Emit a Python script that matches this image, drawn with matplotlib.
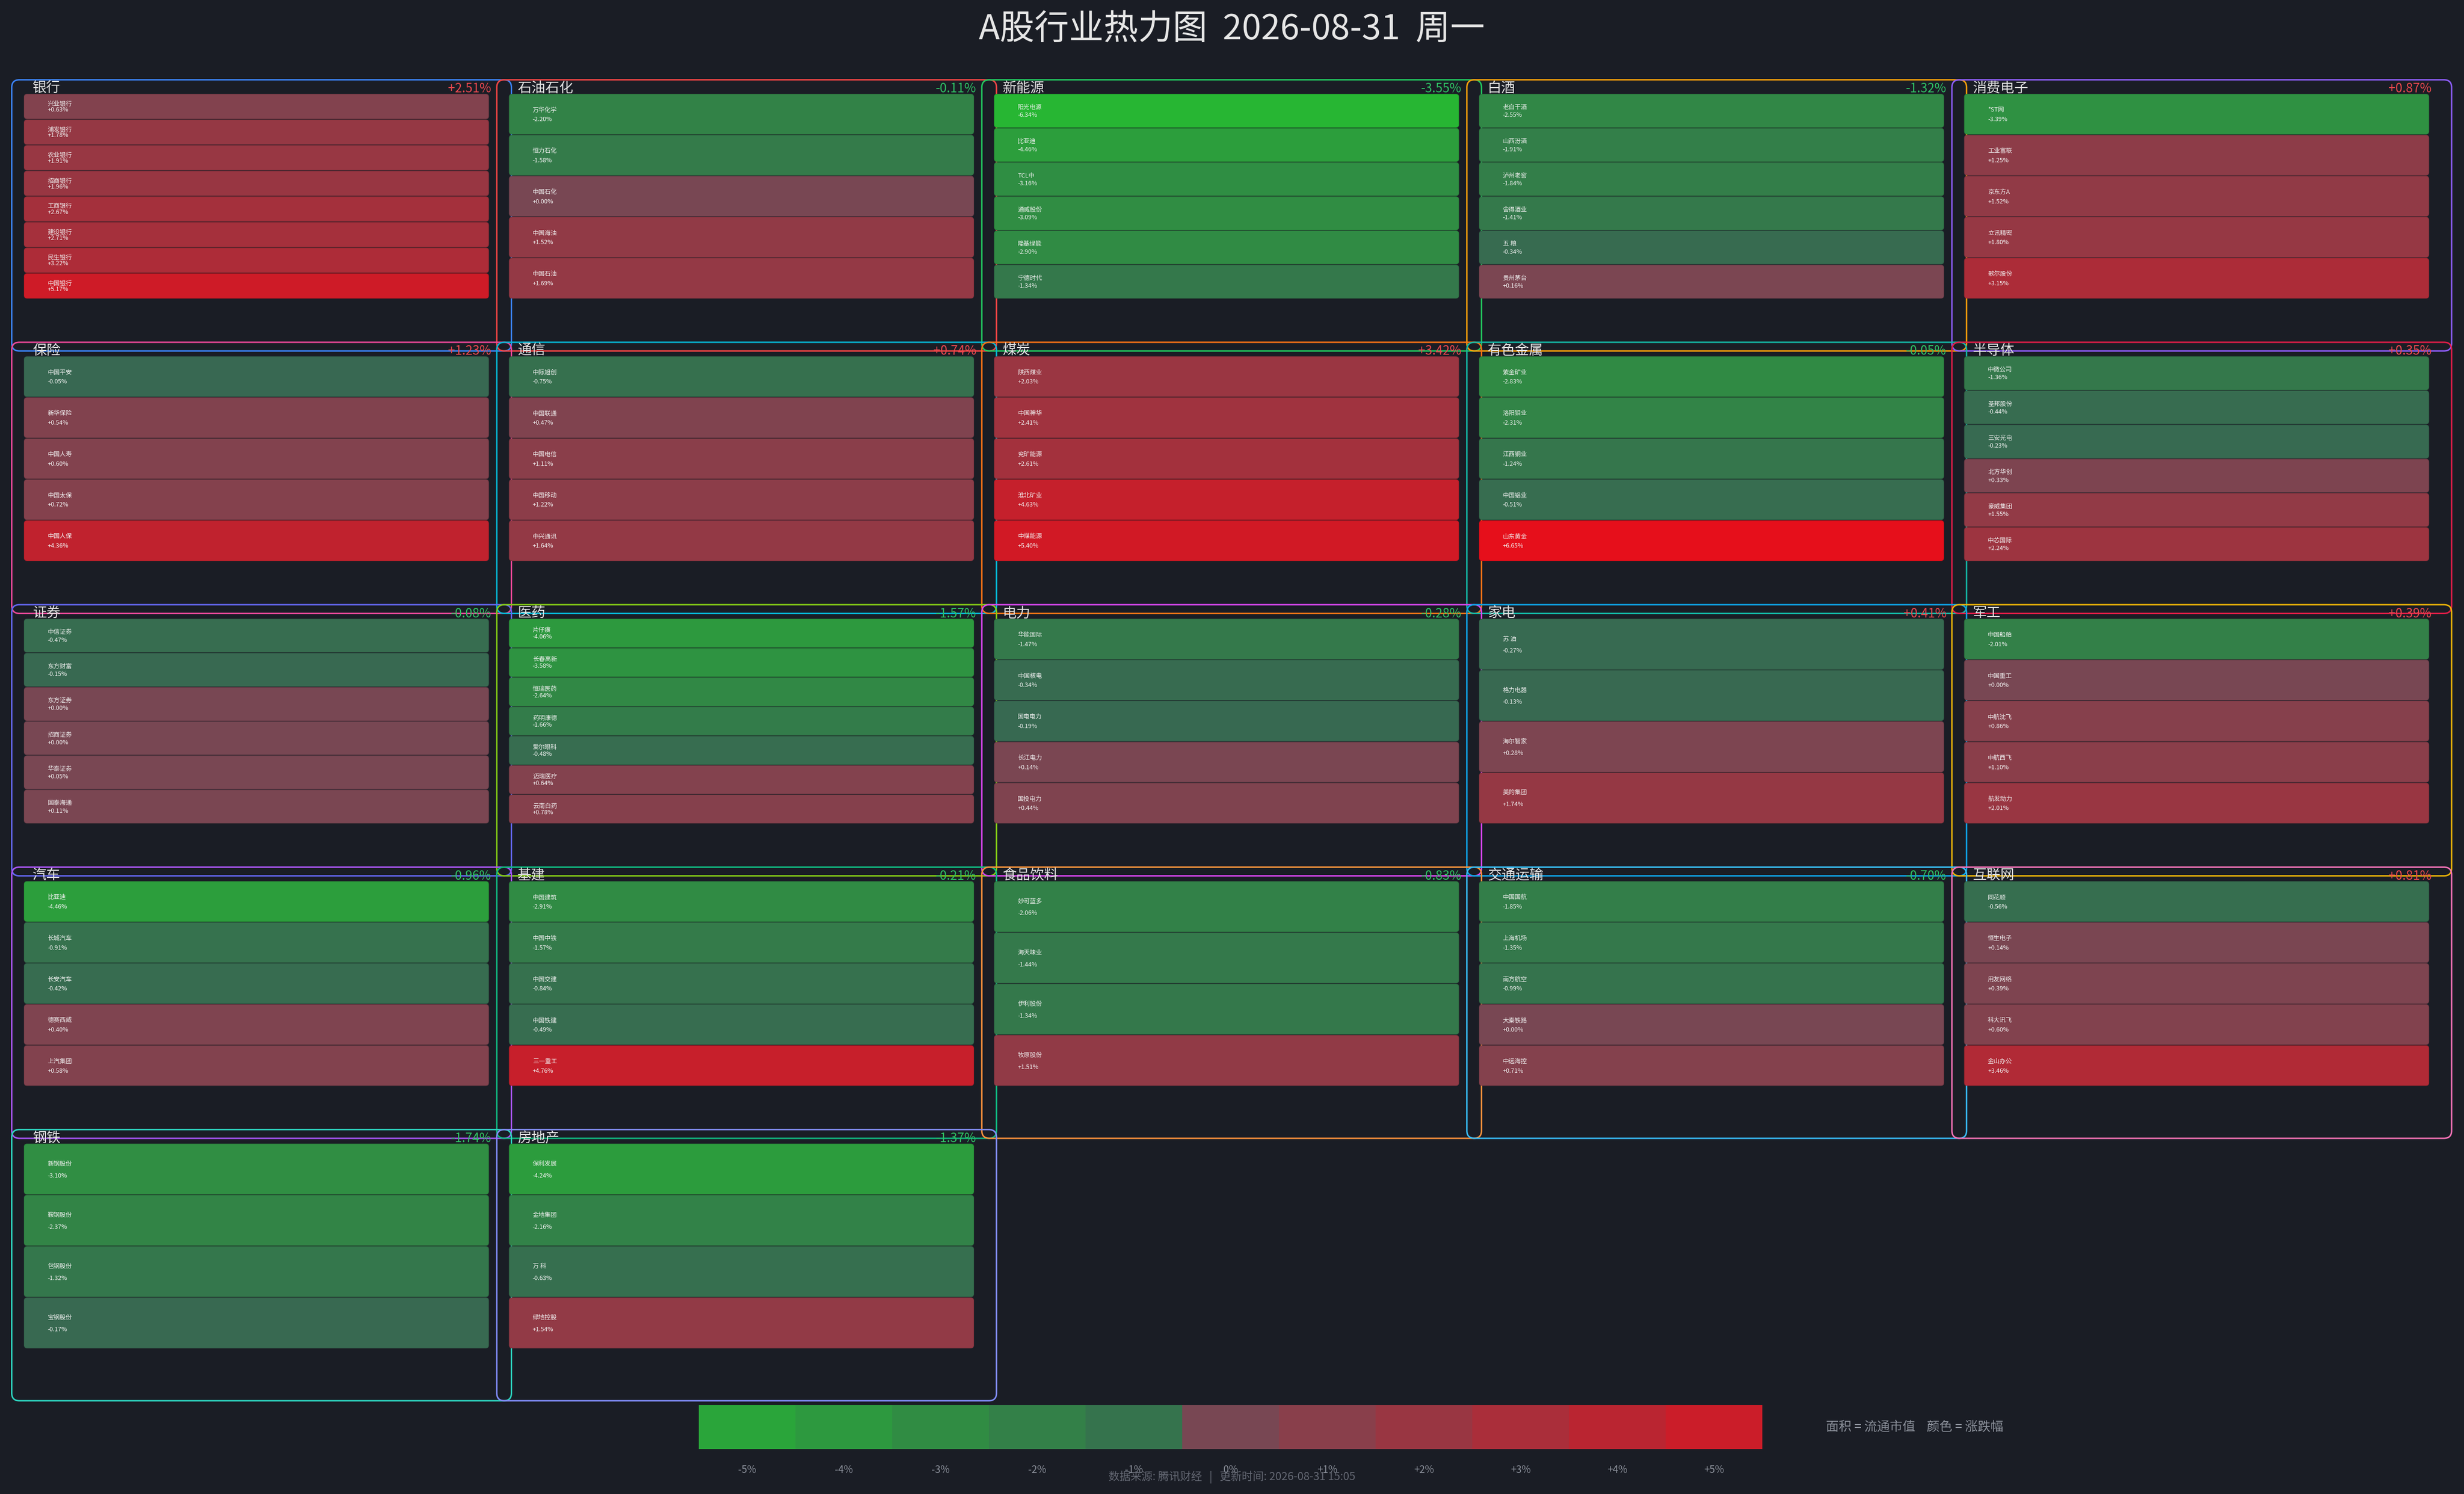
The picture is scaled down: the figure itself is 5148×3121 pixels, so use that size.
import numpy as np
import matplotlib.pyplot as plt
from matplotlib.patches import FancyBboxPatch, Rectangle

plt.rcParams['font.family'] = ['Noto Sans CJK SC', 'DejaVu Sans']

title = 'A股行业热力图  2026-08-31  周一'
footer = '数据来源: 腾讯财经   |   更新时间: 2026-08-31 15:05'
legend_note = '面积 = 流通市值    颜色 = 涨跌幅'

sectors = ['银行', '石油石化', '新能源', '白酒', '消费电子',
           '保险', '通信', '煤炭', '有色金属', '半导体',
           '证券', '医药', '电力', '家电', '军工',
           '汽车', '基建', '食品饮料', '交通运输', '互联网',
           '钢铁', '房地产']
sector_pct = [2.51, -0.11, -3.55, -1.32, 0.87,
              1.23, 0.74, 3.42, -0.05, 0.35,
              -0.08, -1.57, -0.28, 0.41, 0.39,
              -0.96, -0.21, -0.83, -0.70, 0.81,
              -1.74, -1.37]

stock_names = [
    ['兴业银行', '浦发银行', '农业银行', '招商银行', '工商银行', '建设银行', '民生银行', '中国银行'],
    ['万华化学', '恒力石化', '中国石化', '中国海油', '中国石油'],
    ['阳光电源', '比亚迪', 'TCL中', '通威股份', '隆基绿能', '宁德时代'],
    ['老白干酒', '山西汾酒', '泸州老窖', '舍得酒业', '五 粮', '贵州茅台'],
    ['*ST网', '工业富联', '京东方A', '立讯精密', '歌尔股份'],
    ['中国平安', '新华保险', '中国人寿', '中国太保', '中国人保'],
    ['中际旭创', '中国联通', '中国电信', '中国移动', '中兴通讯'],
    ['陕西煤业', '中国神华', '兖矿能源', '淮北矿业', '中煤能源'],
    ['紫金矿业', '洛阳钼业', '江西铜业', '中国铝业', '山东黄金'],
    ['中微公司', '圣邦股份', '三安光电', '北方华创', '豪威集团', '中芯国际'],
    ['中信证券', '东方财富', '东方证券', '招商证券', '华泰证券', '国泰海通'],
    ['片仔癀', '长春高新', '恒瑞医药', '药明康德', '爱尔眼科', '迈瑞医疗', '云南白药'],
    ['华能国际', '中国核电', '国电电力', '长江电力', '国投电力'],
    ['苏 泊', '格力电器', '海尔智家', '美的集团'],
    ['中国船舶', '中国重工', '中航沈飞', '中航西飞', '航发动力'],
    ['比亚迪', '长城汽车', '长安汽车', '德赛西威', '上汽集团'],
    ['中国建筑', '中国中铁', '中国交建', '中国铁建', '三一重工'],
    ['妙可蓝多', '海天味业', '伊利股份', '牧原股份'],
    ['中国国航', '上海机场', '南方航空', '大秦铁路', '中远海控'],
    ['同花顺', '恒生电子', '用友网络', '科大讯飞', '金山办公'],
    ['新钢股份', '鞍钢股份', '包钢股份', '宝钢股份'],
    ['保利发展', '金地集团', '万 科', '绿地控股'],
]
stock_pct = [
    [0.63, 1.78, 1.91, 1.96, 2.67, 2.71, 3.22, 5.17],
    [-2.20, -1.58, 0.00, 1.52, 1.69],
    [-6.34, -4.46, -3.16, -3.09, -2.90, -1.34],
    [-2.55, -1.91, -1.84, -1.41, -0.34, 0.16],
    [-3.39, 1.25, 1.52, 1.80, 3.15],
    [-0.05, 0.54, 0.60, 0.72, 4.36],
    [-0.75, 0.47, 1.11, 1.22, 1.64],
    [2.03, 2.41, 2.61, 4.63, 5.40],
    [-2.83, -2.31, -1.24, -0.51, 6.65],
    [-1.36, -0.44, -0.23, 0.33, 1.55, 2.24],
    [-0.47, -0.15, 0.00, 0.00, 0.05, 0.11],
    [-4.06, -3.58, -2.64, -1.66, -0.48, 0.64, 0.78],
    [-1.47, -0.34, -0.19, 0.14, 0.44],
    [-0.27, -0.13, 0.28, 1.74],
    [-2.01, 0.00, 0.86, 1.10, 2.01],
    [-4.46, -0.91, -0.42, 0.40, 0.58],
    [-2.91, -1.57, -0.84, -0.49, 4.76],
    [-2.06, -1.44, -1.34, 1.51],
    [-1.85, -1.35, -0.99, 0.00, 0.71],
    [-0.56, 0.14, 0.39, 0.60, 3.46],
    [-3.10, -2.37, -1.32, -0.17],
    [-4.24, -2.16, -0.63, 1.54],
]
cbar_ticks = [-5, -4, -3, -2, -1, 0, 1, 2, 3, 4, 5]

frame_colors = ['#3b82f6', '#ef4444', '#22c55e', '#f59e0b', '#8b5cf6',
                '#ec4899', '#06b6d4', '#f97316', '#14b8a6', '#e11d48',
                '#6366f1', '#84cc16', '#d946ef', '#0ea5e9', '#eab308',
                '#a855f7', '#10b981', '#fb923c', '#38bdf8', '#f472b6',
                '#2dd4bf', '#818cf8']

BG = '#1a1d25'
UP, DOWN = '#e8474f', '#2fbf63'
GREEN0, GREEN_MAX = np.array([56, 103, 82]), np.array([37, 190, 48])
RED0, RED_MAX = np.array([120, 71, 83]), np.array([236, 12, 24])


def pct_color(v):
    t = min(abs(v) / 7.0, 1.0)
    a, b = (RED0, RED_MAX) if v >= 0 else (GREEN0, GREEN_MAX)
    return tuple((a + (b - a) * t) / 255.0)


W, H = 5148, 3121
fig = plt.figure(figsize=(W / 200, H / 200), dpi=200, facecolor=BG)
ax = fig.add_axes([0, 0, 1, 1], facecolor=BG)
ax.set_xlim(0, W)
ax.set_ylim(H, 0)
ax.axis('off')

ax.text(W / 2, 62, title, ha='center', va='center', fontsize=26, color='#e6e6e6')

ncols = 5
col_step, row_step = 1013.4, 548.25
x_origin, y_origin = 24.5, 166.7
frame_w, frame_h = 1044, 566.5

for i, sec in enumerate(sectors):
    r, c = divmod(i, ncols)
    fx = x_origin + c * col_step
    fy = y_origin + r * row_step
    ax.add_patch(FancyBboxPatch((fx, fy), frame_w, frame_h,
                                boxstyle='round,pad=0,rounding_size=16',
                                fill=False, ec=frame_colors[i], lw=1.1, zorder=1))

    tx, ty, tw, th = fx + 26, fy + 29, 970.5, 428.4
    n = len(stock_names[i])
    h = th / n
    for j, (name, v) in enumerate(zip(stock_names[i], stock_pct[i])):
        y0 = ty + j * h
        col = pct_color(v)
        edge = tuple(np.array(col) * 0.88)
        ax.add_patch(FancyBboxPatch((tx, y0 + 1), tw, h - 2,
                                    boxstyle='round,pad=0,rounding_size=6',
                                    fc=col, ec=edge, lw=0.4, zorder=2))
        ax.text(tx + 49, y0 + 0.40 * h, name, ha='left', va='center',
                fontsize=4.6, color='#f2f2f2', zorder=3)
        ax.text(tx + 49, y0 + 0.63 * h, f'{v:+.2f}%', ha='left', va='center',
                fontsize=4.6, color='#f2f2f2', zorder=3)

    sp = sector_pct[i]
    ax.text(fx + 43.5, fy + 18, sec, ha='left', va='center',
            fontsize=10.5, color='#e2e2e2', zorder=4)
    ax.text(fx + 1002, fy + 19, f'{sp:+.2f}%', ha='right', va='center',
            fontsize=9.5, color=UP if sp >= 0 else DOWN, zorder=4)

# colour legend
cb_x0, cb_y0, cb_w, cb_h = 1460, 2935, 202, 92
for k, v in enumerate(cbar_ticks):
    ax.add_patch(Rectangle((cb_x0 + k * cb_w, cb_y0), cb_w, cb_h,
                           fc=pct_color(v), ec='none', zorder=2))
    label = f'{v:+d}%' if v > 0 else f'{v:d}%'
    ax.text(cb_x0 + (k + 0.5) * cb_w, 3071, label, ha='center', va='center',
            fontsize=7.5, color='#8a8f99')

ax.text(3815, 2981, legend_note, ha='left', va='center', fontsize=9.6, color='#8a8f99')
ax.text(W / 2, 3086, footer, ha='center', va='center', fontsize=8.3, color='#646873')

fig.savefig('out.png', dpi=200, facecolor=BG)
